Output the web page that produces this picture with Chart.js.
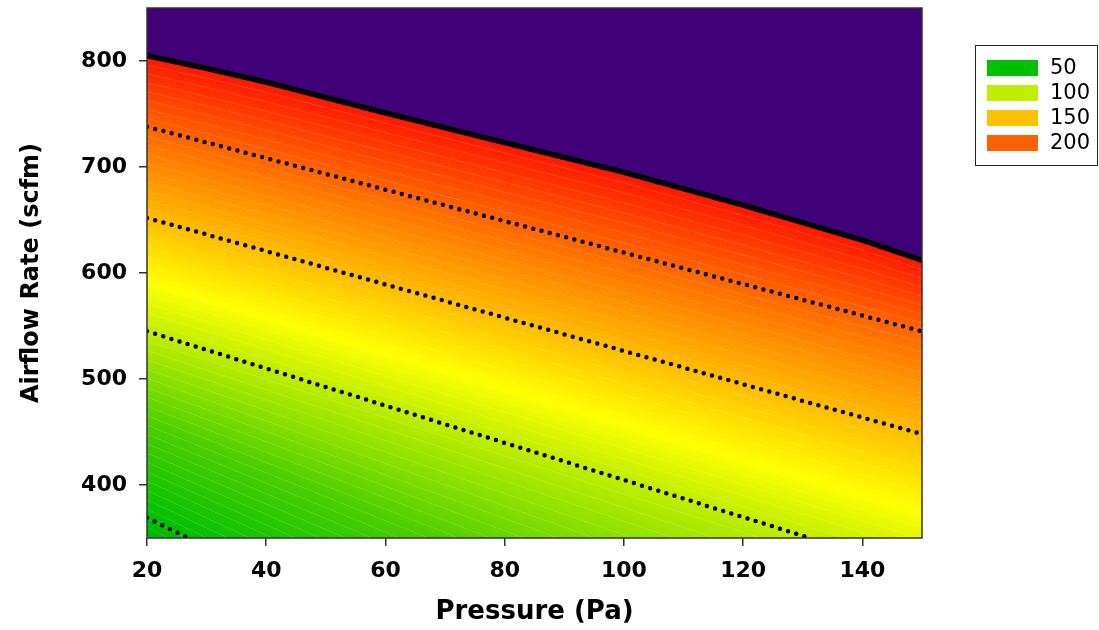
<!DOCTYPE html>
<html>
<head>
<meta charset="utf-8">
<title>Airflow Rate vs Pressure</title>
<script src="https://cdn.jsdelivr.net/npm/chart.js@4"></script>
<style>
  html, body { margin: 0; padding: 0; background: #fff; }
  #wrap { width: 1099px; height: 630px; }
</style>
</head>
<body>
<div id="wrap"><canvas id="myChart"></canvas></div>
<script>
// axis ticks
const pressureTicks = [20, 40, 60, 80, 100, 120, 140];
const airflowTicks = [400, 500, 600, 700, 800];

// contour levels and their traced lines (pressure in Pa, airflow in scfm)
const contourLevels = [50, 100, 150, 200, 250];
const c50Pressure = [20, 26.9];
const c50Airflow = [369, 350];
const c100Pressure = [20, 131.2];
const c100Airflow = [545, 350];
const c150Pressure = [20, 150];
const c150Airflow = [652, 448];
const c200Pressure = [20, 150];
const c200Airflow = [738, 545];
// upper edge of the surface (level 250)
const edgePressure = [20, 30, 40, 60, 80, 100, 120, 140, 150];
const edgeAirflow = [805, 793, 780, 751, 723, 695, 664, 631, 612];

// legend entries
const legendLabels = ['50', '100', '150', '200'];
const legendColors = ['#00c000', '#bfee00', '#ffc000', '#ff6000'];

// colour ramp for the surface
const rampLevels = [45, 50, 75, 100, 122, 150, 200, 250];
const rampColors = [[0, 182, 0], [0, 192, 0], [75, 206, 0], [192, 238, 0], [255, 255, 0], [255, 188, 0], [255, 100, 0], [255, 22, 0]];
const PURPLE = [64, 0, 120];
const HATCH_STEPS = [20, 12, 10, 8];

const contourLines = [
  [c50Pressure, c50Airflow],
  [c100Pressure, c100Airflow],
  [c150Pressure, c150Airflow],
  [c200Pressure, c200Airflow],
  [edgePressure, edgeAirflow]
];

function toPoints(xs, ys) {
  return xs.map((v, i) => ({x: v, y: ys[i]}));
}

// linear interpolation along a traced line, extended past its ends
function lineAt(xs, ys, x) {
  let i = 0;
  while (i < xs.length - 2 && x > xs[i + 1]) i++;
  const t = (x - xs[i]) / (xs[i + 1] - xs[i]);
  return ys[i] + t * (ys[i + 1] - ys[i]);
}

function rampColor(z) {
  if (z <= rampLevels[0]) return rampColors[0];
  for (let i = 1; i < rampLevels.length; i++) {
    if (z <= rampLevels[i]) {
      const t = (z - rampLevels[i - 1]) / (rampLevels[i] - rampLevels[i - 1]);
      const a = rampColors[i - 1], b = rampColors[i];
      return [a[0] + t * (b[0] - a[0]), a[1] + t * (b[1] - a[1]), a[2] + t * (b[2] - a[2])];
    }
  }
  return rampColors[rampColors.length - 1];
}

// paints the filled surface between the contour lines
const surfacePlugin = {
  id: 'surface',
  beforeDatasetsDraw(chart) {
    const {ctx, chartArea: a, scales} = chart;
    const w = Math.round(a.right - a.left);
    const h = Math.round(a.bottom - a.top);
    const off = document.createElement('canvas');
    off.width = w;
    off.height = h;
    const octx = off.getContext('2d');
    const img = octx.createImageData(w, h);
    const px = img.data;
    const n = contourLevels.length;

    for (let i = 0; i < w; i++) {
      const p = scales.x.getValueForPixel(a.left + i + 0.5);
      const lv = contourLines.map(([xs, ys]) => lineAt(xs, ys, p));
      let prevHatch = null;
      for (let j = 0; j < h; j++) {
        const q = scales.y.getValueForPixel(a.top + j + 0.5);
        let rgb;
        if (q >= lv[n - 1]) {
          rgb = PURPLE;
          prevHatch = null;
        } else {
          let k = 0;
          while (k < n - 2 && q >= lv[k + 1]) k++;
          const f = (q - lv[k]) / (lv[k + 1] - lv[k]);
          const z = contourLevels[k] + f * (contourLevels[k + 1] - contourLevels[k]);
          rgb = rampColor(z);
          const hatch = k * 1000 + Math.floor(f * HATCH_STEPS[k]);
          if (prevHatch !== null && hatch !== prevHatch) {
            rgb = [rgb[0] + (255 - rgb[0]) * 0.13, rgb[1] + (255 - rgb[1]) * 0.13, rgb[2] + (255 - rgb[2]) * 0.13];
          }
          prevHatch = hatch;
        }
        const o = (j * w + i) * 4;
        px[o] = rgb[0];
        px[o + 1] = rgb[1];
        px[o + 2] = rgb[2];
        px[o + 3] = 255;
      }
    }
    octx.putImageData(img, 0, 0);
    ctx.save();
    ctx.drawImage(off, a.left, a.top);
    ctx.restore();
  },
  afterDatasetsDraw(chart) {
    const {ctx, chartArea: a} = chart;
    ctx.save();
    ctx.strokeStyle = '#333';
    ctx.lineWidth = 1.5;
    ctx.strokeRect(a.left, a.top, a.right - a.left, a.bottom - a.top);
    ctx.restore();
  }
};

// boxed legend to the right of the plot
const legendBoxPlugin = {
  id: 'legendBox',
  afterDraw(chart) {
    const {ctx, chartArea: a} = chart;
    const left = a.right + 53;
    const top = a.top + 37;
    ctx.save();
    ctx.fillStyle = '#fff';
    ctx.fillRect(left, top, 122, 120);
    ctx.strokeStyle = '#222';
    ctx.lineWidth = 1;
    ctx.strokeRect(left + 0.5, top + 0.5, 122, 120);
    ctx.font = '21px "DejaVu Sans"';
    ctx.textBaseline = 'middle';
    ctx.textAlign = 'left';
    legendLabels.forEach((label, i) => {
      const rowY = top + 15 + i * 25;
      ctx.fillStyle = legendColors[i];
      ctx.fillRect(left + 12, rowY, 51, 16);
      ctx.fillStyle = '#000';
      ctx.fillText(label, left + 75, rowY + 9);
    });
    ctx.restore();
  }
};

function dottedLine(xs, ys) {
  return {
    data: toPoints(xs, ys),
    showLine: true,
    borderColor: '#000',
    borderWidth: 4.5,
    borderDash: [0, 8.5],
    borderCapStyle: 'round',
    pointRadius: 0,
    fill: false
  };
}

const ctx = document.getElementById('myChart');

const chart = new Chart(ctx, {
  type: 'scatter',
  data: {
    datasets: [
      dottedLine(c50Pressure, c50Airflow),
      dottedLine(c100Pressure, c100Airflow),
      dottedLine(c150Pressure, c150Airflow),
      dottedLine(c200Pressure, c200Airflow),
      {
        data: toPoints(edgePressure, edgeAirflow),
        showLine: true,
        borderColor: '#000',
        borderWidth: 5.5,
        borderDash: [3, 1.5],
        borderCapStyle: 'round',
        pointRadius: 0,
        fill: false
      }
    ]
  },
  options: {
    responsive: true,
    maintainAspectRatio: false,
    animation: false,
    layout: {padding: {top: 8, right: 177, bottom: 0, left: 0}},
    plugins: {
      legend: {display: false},
      tooltip: {enabled: false}
    },
    scales: {
      x: {
        type: 'linear',
        min: 20,
        max: 150,
        afterBuildTicks: scale => { scale.ticks = pressureTicks.map(v => ({value: v})); },
        afterFit: scale => {
          scale.height = 92;
          scale.paddingLeft = 0;
          scale.paddingRight = 0;
        },
        grid: {drawOnChartArea: false, tickLength: 8, color: '#333', lineWidth: 1.5},
        border: {display: false},
        ticks: {
          color: '#000',
          padding: 12,
          maxRotation: 0,
          font: {family: 'DejaVu Sans', size: 22, weight: 'bold'}
        },
        title: {
          display: true,
          text: 'Pressure (Pa)',
          color: '#000',
          padding: {top: 0, bottom: 2},
          font: {family: 'DejaVu Sans', size: 26, weight: 'bold'}
        }
      },
      y: {
        type: 'linear',
        min: 350,
        max: 850,
        afterBuildTicks: scale => { scale.ticks = airflowTicks.map(v => ({value: v})); },
        afterFit: scale => {
          scale.width = 147;
          scale.paddingTop = 0;
          scale.paddingBottom = 0;
        },
        grid: {drawOnChartArea: false, tickLength: 8, color: '#333', lineWidth: 1.5},
        border: {display: false},
        ticks: {
          color: '#000',
          padding: 12,
          font: {family: 'DejaVu Sans', size: 22, weight: 'bold'}
        },
        title: {
          display: true,
          text: 'Airflow Rate (scfm)',
          color: '#000',
          padding: {top: 17, bottom: 0},
          font: {family: 'DejaVu Sans', size: 24, weight: 'bold'}
        }
      }
    }
  },
  plugins: [surfacePlugin, legendBoxPlugin]
});
</script>
</body>
</html>
